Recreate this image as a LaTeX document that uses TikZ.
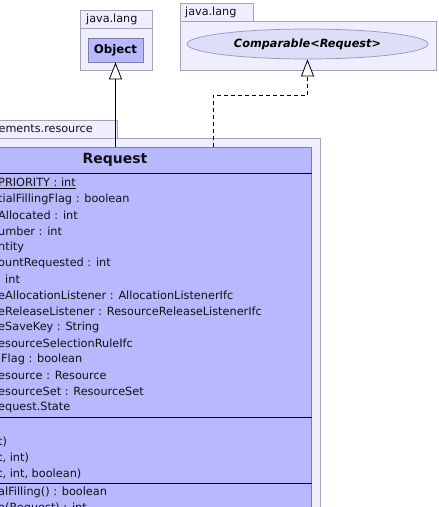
\documentclass[tikz,border=0pt]{standalone}
\usepackage{fontspec}
\setmainfont{DejaVu Sans}
\usepackage{xcolor}
\usetikzlibrary{arrows.meta, positioning, shapes.geometric}
\definecolor{pkgfill}{HTML}{EEEEFF}
\definecolor{pkgline}{HTML}{A4A4B4}
\definecolor{clsfill}{HTML}{B8B8FF}
\definecolor{clsline}{HTML}{7C7CA8}
\definecolor{ifcfill}{HTML}{DDDDF8}
\definecolor{darktext}{HTML}{111111}

\begin{document}
\begin{tikzpicture}[x=1pt, y=-1pt,
            pkg/.style={draw=pkgline, fill=pkgfill, line width=0.9pt},
            cls/.style={draw=clsline, fill=clsfill, line width=0.8pt},
            sep/.style={draw=black, line width=0.9pt},
            txt/.style={anchor=west, inner sep=0pt, text=darktext, font=\fontsize{11.3}{13}\selectfont},
            inherit/.style={-{Triangle[length=17pt, width=13pt, fill=white]}, line width=0.8pt},
            realize/.style={inherit, dash pattern=on 4pt off 3pt}]
            \useasboundingbox (0,0) rectangle (439,507);
            \clip (0,0) rectangle (439,507);
            % java.lang (Object)
            \draw[pkg] (80,10) rectangle (152,28);
            \draw[pkg] (80,28) rectangle (152,70);
            \node[txt, font=\fontsize{11.2}{13}\selectfont] (langA) at (86,19.5) {java.lang};
            \node[cls, minimum width=55pt, minimum height=24pt, inner sep=0pt,
                  font=\bfseries\fontsize{11.8}{13}\selectfont] (obj) at (115.5,50) {Object};
            % java.lang (Comparable)
            \draw[pkg] (180,3) rectangle (253,21);
            \draw[pkg] (180,21) rectangle (436,70);
            \node[txt, font=\fontsize{11.2}{13}\selectfont] (langB) at (185,12) {java.lang};
            \node[ellipse, draw=clsline!80, fill=ifcfill, line width=0.7pt, minimum width=241pt,
                  minimum height=30pt, inner sep=0pt,
                  font=\bfseries\itshape\fontsize{11.3}{13}\selectfont] (comp) at (307.5,44) {Comparable<Request>};
            % elements.resource
            \draw[pkg] (-200,120) rectangle (117,138);
            \draw[pkg] (-200,138) rectangle (320,600);
            \node[txt, font=\fontsize{11.2}{13}\selectfont] (pkgres) at (-1.5,129) {ements.resource};
            \node[cls, minimum width=612pt, minimum height=450pt, anchor=north east] (req) at (312,147) {};
            \node[font=\bfseries\fontsize{14}{16}\selectfont, text=darktext] (reqname) at (115,160) {Request};
            \draw[sep] (-200,173) -- (312,173);
            \draw[sep] (-200,417) -- (312,417);
            \draw[sep] (-200,483) -- (312,483);
            % attributes
            \node[txt] (a1) at (-2,183) {\underline{PRIORITY : int}};
            \foreach \t [count=\i from 2] in {tialFillingFlag : boolean, Allocated : int, umber : int, ntity,
                ountRequested : int, {\hspace{7pt}int}, eAllocationListener : AllocationListenerIfc,
                eReleaseListener : ResourceReleaseListenerIfc, eSaveKey : String, esourceSelectionRuleIfc,
                {\hspace{3pt}Flag : boolean}, esource : Resource, esourceSet : ResourceSet, equest.State} {
                \node[txt] (a\i) at (-2,{183+16*(\i-1)}) {\t};
            }
            % constructors
            \foreach \t [count=\i] in {t), {t, int)}, {t, int, boolean)}} {
                \node[txt] (c\i) at (-2,{426+16*\i}) {\t};
            }
            % methods
            \node[txt] (m1) at (-2,492) {alFilling() : boolean};
            \node[txt] (m2) at (-2,508) {o(Request) : int};
            % relations
            \coordinate (bend) at (213,95);
            \draw[inherit] (obj.south |- req.north) -- (obj.south);
            \draw[realize] (bend |- req.north) -- (bend) -| (comp.south);
        \end{tikzpicture}
\end{document}
